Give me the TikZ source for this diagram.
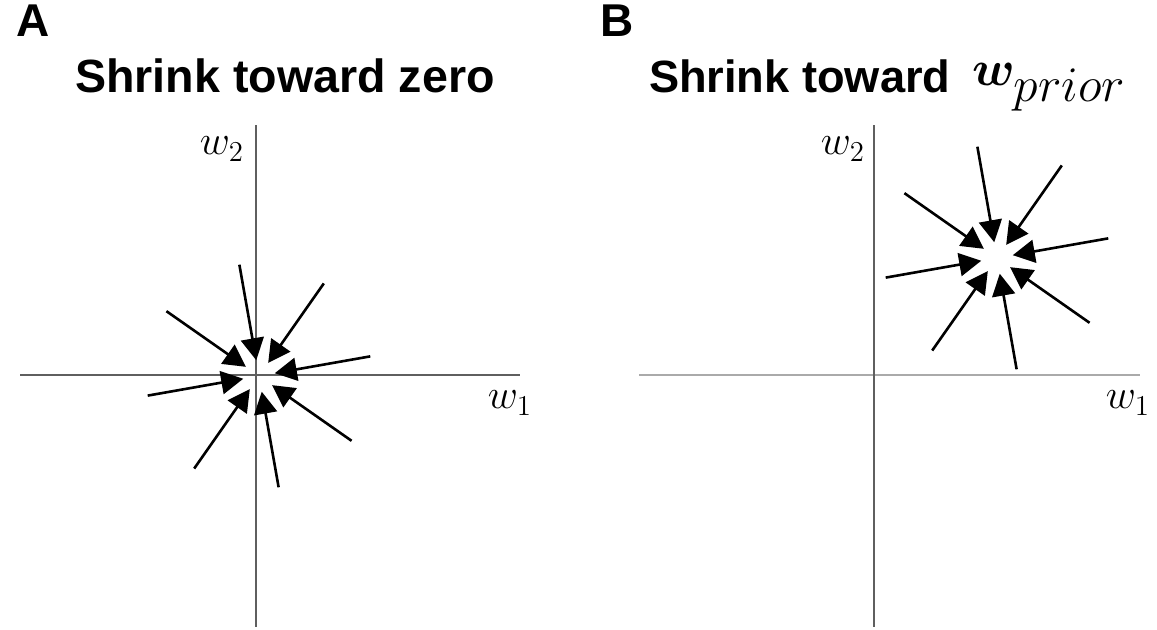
\documentclass[tikz,border=0pt]{standalone}
\usepackage{amsmath,amssymb,bm}
\usepackage{fontspec}
\setmainfont{Liberation Sans}
\usetikzlibrary{arrows.meta,calc}
\definecolor{AxisDark}{RGB}{95,95,95}
\definecolor{AxisLight}{RGB}{170,170,170}

\begin{document}
\begin{tikzpicture}[x=0.5pt,y=0.5pt,
    axisline/.style={AxisDark,line width=0.7pt},
    shrinkarrow/.style={-{Triangle[length=11pt,width=11.5pt]},line width=1.3pt},
    paneltag/.style={font=\bfseries\fontsize{23}{27}\selectfont},
    paneltitle/.style={font=\bfseries\fontsize{23.3}{28}\selectfont},
    axislabel/.style={font=\fontsize{22}{26}\selectfont}]
  \useasboundingbox (0,0) rectangle (1157,630);
  % panel A
  \node[paneltag,anchor=base west] (tagA) at (9,593) {A};
  \node[paneltitle,anchor=base] (titleA) at (285,537) {Shrink toward zero};
  \coordinate (xleftA) at (20,255);
  \coordinate (xrightA) at (520,255);
  \coordinate (ybotA) at (256,3);
  \coordinate (ytopA) at (256,505);
  \draw[axisline] (xleftA) -- (xrightA);
  \draw[axisline] (ybotA) -- (ytopA);
  \node[axislabel] (w1A) at (510,227) {$w_1$};
  \node[axislabel] (w2A) at (222,481) {$w_2$};
  \coordinate (zero) at (259,254);
  \foreach \a [count=\i] in {10,55,...,325}{
    \coordinate (fromA\i) at ($(zero)+(\a:113)$);
    \coordinate (toA\i) at ($(zero)+(\a:16)$);
    \draw[shrinkarrow] (fromA\i) -- (toA\i);
  }
  % panel B
  \node[paneltag,anchor=base west] (tagB) at (593,593) {B};
  \node[paneltitle,anchor=base west,font=\bfseries\fontsize{22.6}{28}\selectfont] (titleB)
    at (642,537) {Shrink toward};
  \node[anchor=base west,inner sep=0pt,font=\fontsize{24}{28}\selectfont] (wprior)
    at (972,544) {$\bm{w}_{\textstyle prior}$};
  \coordinate (xleftB) at (639,255);
  \coordinate (xrightB) at (1140,255);
  \coordinate (ybotB) at (874,3);
  \coordinate (ytopB) at (874,505);
  \draw[axisline,AxisLight,line width=1pt] (xleftB) -- (xrightB);
  \draw[axisline] (ybotB) -- (ytopB);
  \node[axislabel] (w1B) at (1128,227) {$w_1$};
  \node[axislabel] (w2B) at (843,481) {$w_2$};
  \coordinate (prior) at (997,372);
  \foreach \a [count=\i] in {10,55,...,325}{
    \coordinate (fromB\i) at ($(prior)+(\a:113)$);
    \coordinate (toB\i) at ($(prior)+(\a:16)$);
    \draw[shrinkarrow] (fromB\i) -- (toB\i);
  }
\end{tikzpicture}
\end{document}
